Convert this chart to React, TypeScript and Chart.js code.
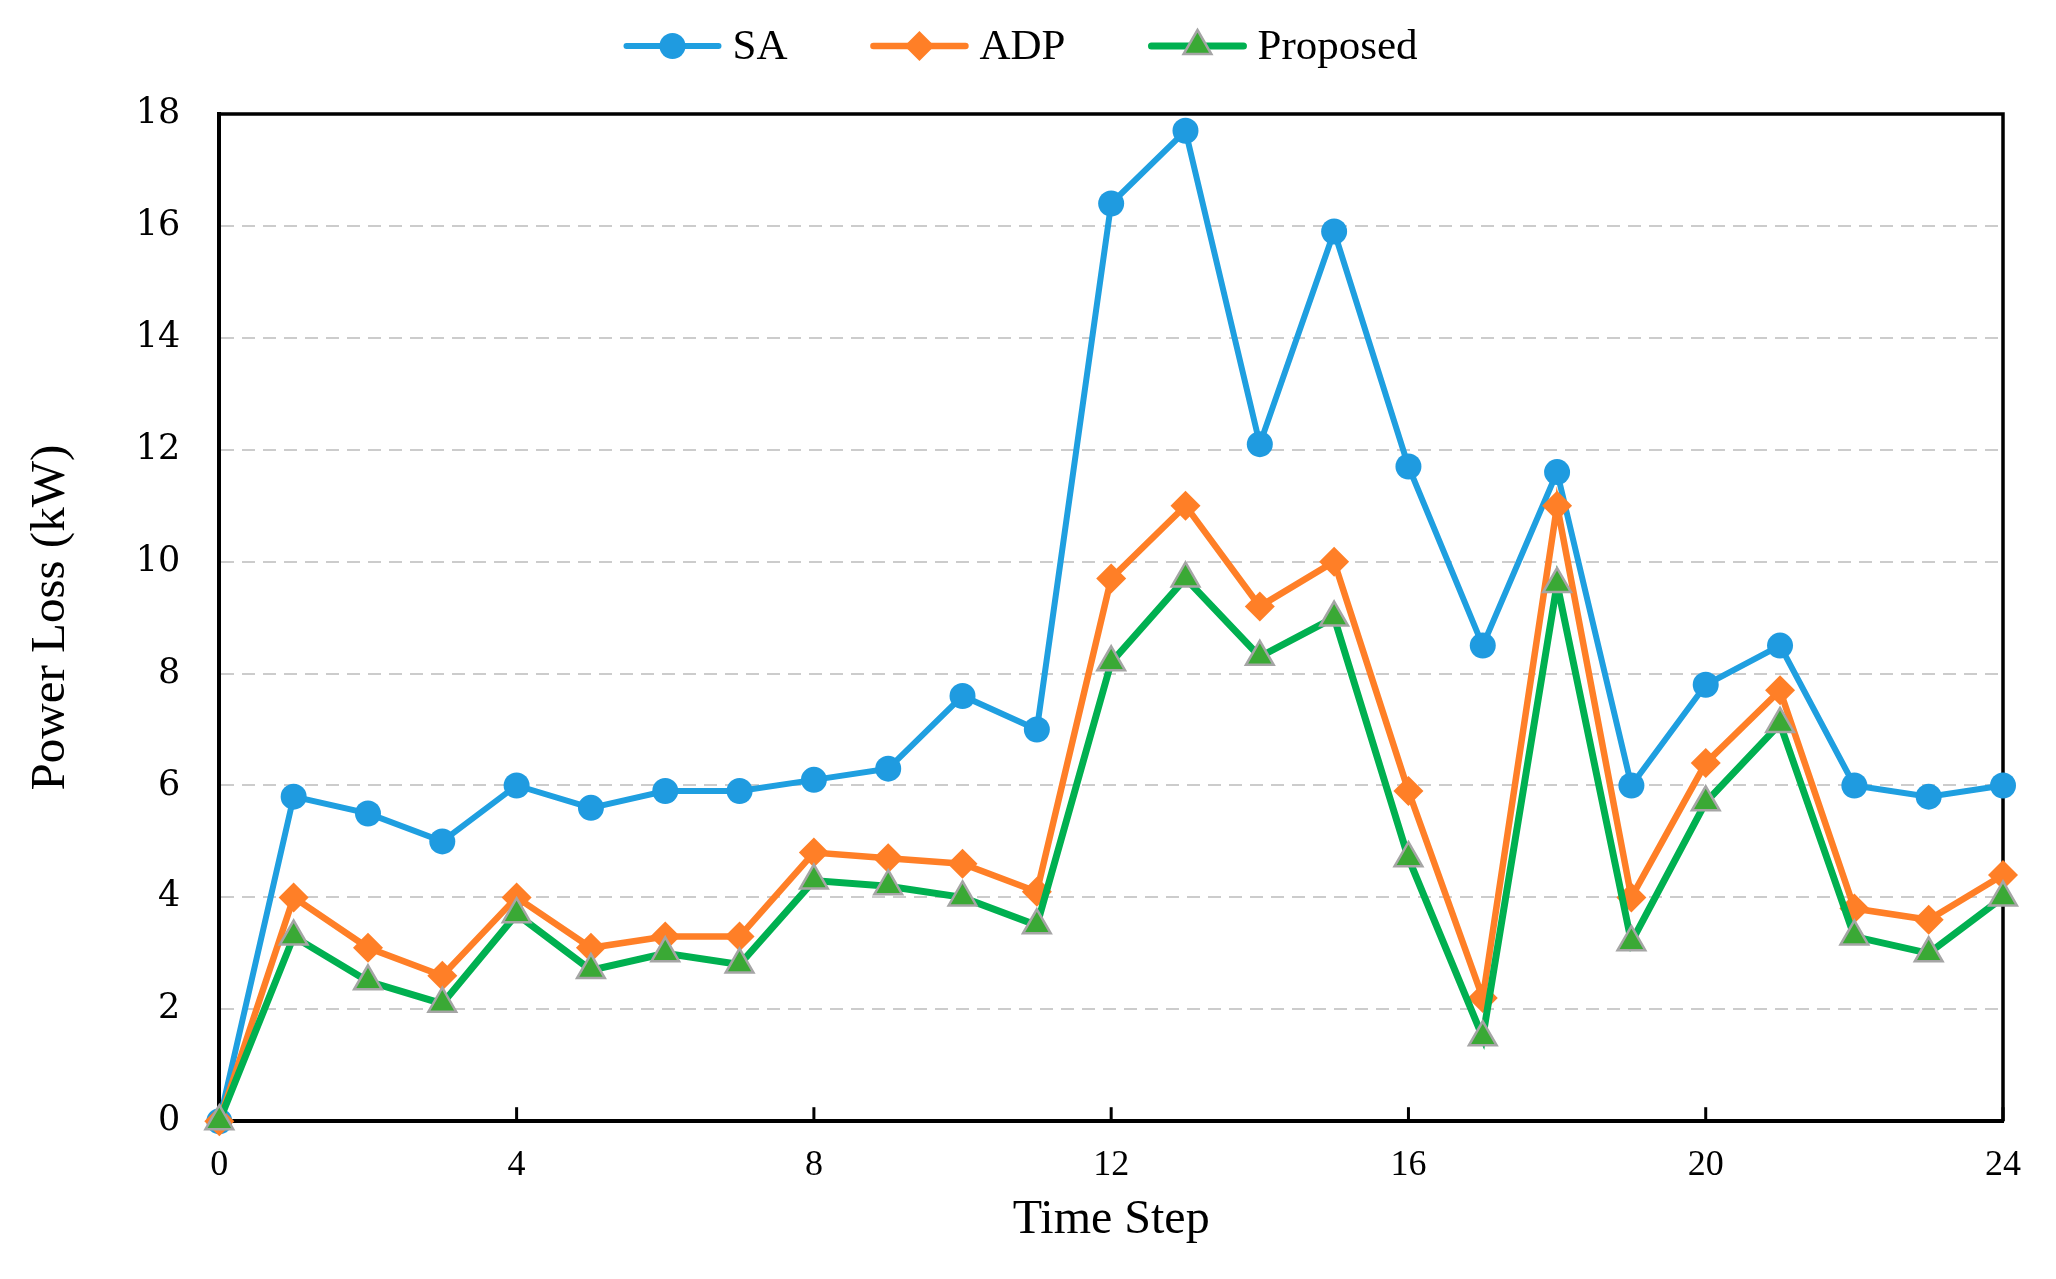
import React, { useEffect, useRef } from "react";
import { Chart, registerables } from "chart.js";

Chart.register(...registerables);

const timeSteps = [0, 1, 2, 3, 4, 5, 6, 7, 8, 9, 10, 11, 12, 13, 14, 15, 16, 17, 18, 19, 20, 21, 22, 23, 24];
const saValues = [0, 5.8, 5.5, 5.0, 6.0, 5.6, 5.9, 5.9, 6.1, 6.3, 7.6, 7.0, 16.4, 17.7, 12.1, 15.9, 11.7, 8.5, 11.6, 6.0, 7.8, 8.5, 6.0, 5.8, 6.0];
const adpValues = [0, 4.0, 3.1, 2.6, 4.0, 3.1, 3.3, 3.3, 4.8, 4.7, 4.6, 4.1, 9.7, 11.0, 9.2, 10.0, 5.9, 2.2, 11.0, 4.0, 6.4, 7.7, 3.8, 3.6, 4.4];
const proposedValues = [0, 3.3, 2.5, 2.1, 3.7, 2.7, 3.0, 2.8, 4.3, 4.2, 4.0, 3.5, 8.2, 9.7, 8.3, 9.0, 4.7, 1.5, 9.6, 3.2, 5.7, 7.1, 3.3, 3.0, 4.0];
const seriesLabels = ["SA", "ADP", "Proposed"];
const xAxisTitle = "Time Step";
const yAxisTitle = "Power Loss (kW)";

const SERIF = '"Liberation Serif", "Times New Roman", serif';

function drawMarker(ctx: CanvasRenderingContext2D, style: string, x: number, y: number, r: number, fill: string, stroke: string, bw: number) {
  ctx.save();
  ctx.beginPath();
  if (style === "circle") {
    ctx.arc(x, y, r, 0, Math.PI * 2);
  } else if (style === "rectRot") {
    ctx.moveTo(x, y - r);
    ctx.lineTo(x + r, y);
    ctx.lineTo(x, y + r);
    ctx.lineTo(x - r, y);
  } else {
    let a = 0;
    ctx.moveTo(x + Math.sin(a) * r, y - Math.cos(a) * r);
    a += (2 * Math.PI) / 3;
    ctx.lineTo(x + Math.sin(a) * r, y - Math.cos(a) * r);
    a += (2 * Math.PI) / 3;
    ctx.lineTo(x + Math.sin(a) * r, y - Math.cos(a) * r);
  }
  ctx.closePath();
  ctx.fillStyle = fill;
  ctx.fill();
  if (bw > 0) {
    ctx.lineWidth = bw;
    ctx.strokeStyle = stroke;
    ctx.stroke();
  }
  ctx.restore();
}

const legendPlugin = {
  id: "lineLegend",
  afterDraw(chart: any) {
    const ctx: CanvasRenderingContext2D = chart.ctx;
    ctx.save();
    ctx.font = `43px ${SERIF}`;
    ctx.textBaseline = "middle";
    const lineLen = 92;
    const gapText = 14;
    const gapItem = 86;
    const dsList = chart.data.datasets;
    const widths = dsList.map((ds: any) => ctx.measureText(ds.label).width);
    let total = 0;
    widths.forEach((w: number, i: number) => {
      total += lineLen + gapText + w + (i > 0 ? gapItem : 0);
    });
    let x = (chart.width - total) / 2 - 6;
    const y = 46;
    dsList.forEach((ds: any, i: number) => {
      ctx.save();
      ctx.lineCap = "round";
      ctx.strokeStyle = ds.borderColor;
      ctx.lineWidth = ds.borderWidth;
      ctx.beginPath();
      ctx.moveTo(x, y);
      ctx.lineTo(x + lineLen, y);
      ctx.stroke();
      ctx.restore();
      drawMarker(ctx, ds.pointStyle, x + lineLen / 2, y, ds.pointRadius, ds.pointBackgroundColor, ds.pointBorderColor, ds.pointBorderWidth);
      ctx.fillStyle = "#000";
      ctx.fillText(ds.label, x + lineLen + gapText, y + 2);
      x += lineLen + gapText + widths[i] + gapItem;
    });
    ctx.restore();
  },
};

const framePlugin = {
  id: "frameTicks",
  beforeDatasetsDraw(chart: any) {
    const ctx: CanvasRenderingContext2D = chart.ctx;
    const { left, right, top, bottom } = chart.chartArea;
    const xs = chart.scales.x;
    ctx.save();
    ctx.strokeStyle = "#000";
    ctx.lineWidth = 3.5;
    ctx.beginPath();
    ctx.moveTo(left, top);
    ctx.lineTo(right, top);
    ctx.lineTo(right, bottom);
    ctx.stroke();
    ctx.lineWidth = 3;
    xs.ticks.forEach((t: any) => {
      const px = xs.getPixelForValue(t.value);
      ctx.beginPath();
      ctx.moveTo(px, bottom);
      ctx.lineTo(px, bottom - 14);
      ctx.stroke();
    });
    ctx.restore();
  },
};

export default function App() {
  const canvasRef = useRef<HTMLCanvasElement | null>(null);

  useEffect(() => {
    if (!canvasRef.current) return;
    const toPts = (vals: number[]) => timeSteps.map((t, i) => ({ x: t, y: vals[i] }));
    const chart = new Chart(canvasRef.current, {
      type: "line",
      data: {
        datasets: [
          {
            label: seriesLabels[0],
            data: toPts(saValues),
            borderColor: "#1f9fe0",
            backgroundColor: "#1f9fe0",
            borderWidth: 6,
            pointStyle: "circle",
            pointRadius: 13,
            pointHoverRadius: 13,
            pointBackgroundColor: "#1f9be0",
            pointBorderColor: "#1f9be0",
            pointBorderWidth: 0,
            tension: 0,
            clip: false,
            order: 3,
          } as any,
          {
            label: seriesLabels[1],
            data: toPts(adpValues),
            borderColor: "#ff7f27",
            backgroundColor: "#ff7f27",
            borderWidth: 6.5,
            pointStyle: "rectRot",
            pointRadius: 15,
            pointHoverRadius: 15,
            pointBackgroundColor: "#ff7f27",
            pointBorderColor: "#ff7f27",
            pointBorderWidth: 0,
            tension: 0,
            clip: false,
            order: 2,
          } as any,
          {
            label: seriesLabels[2],
            data: toPts(proposedValues),
            borderColor: "#00b050",
            backgroundColor: "#00b050",
            borderWidth: 7,
            pointStyle: "triangle",
            pointRadius: 16,
            pointHoverRadius: 16,
            pointBackgroundColor: "#3aa935",
            pointBorderColor: "#a5a5a5",
            pointBorderWidth: 2.5,
            tension: 0,
            clip: false,
            order: 1,
          } as any,
        ],
      },
      options: {
        animation: false,
        responsive: true,
        maintainAspectRatio: false,
        layout: { padding: { top: 114, right: 53, bottom: 30, left: 0 } },
        plugins: {
          legend: { display: false },
          tooltip: { enabled: false },
        },
        scales: {
          x: {
            type: "linear",
            min: 0,
            max: 24,
            ticks: {
              stepSize: 4,
              color: "#000",
              padding: 23,
              font: { family: SERIF, size: 36 },
            },
            grid: { display: false, drawTicks: false },
            border: { display: true, color: "#000", width: 4 },
            title: {
              display: true,
              text: xAxisTitle,
              color: "#000",
              font: { family: SERIF, size: 48 },
              padding: { top: -19, bottom: 0 },
            },
          },
          y: {
            min: 0,
            max: 18,
            ticks: {
              stepSize: 2,
              color: "#000",
              padding: 39,
              font: { family: '"DejaVu Serif", serif', size: 35 },
            },
            grid: { color: "#cccccc", lineWidth: 2, drawTicks: false },
            border: { display: true, color: "#000", width: 4, dash: [13, 8] },
            title: {
              display: true,
              text: yAxisTitle,
              color: "#000",
              font: { family: SERIF, size: 49 },
              padding: { top: 22, bottom: 16 },
            },
          },
        },
      },
      plugins: [framePlugin, legendPlugin],
    });
    return () => chart.destroy();
  }, []);

  return (
    <div style={{ position: "fixed", left: 0, top: 0, width: 2056, height: 1279, background: "#fff" }}>
      <canvas ref={canvasRef} />
    </div>
  );
}
